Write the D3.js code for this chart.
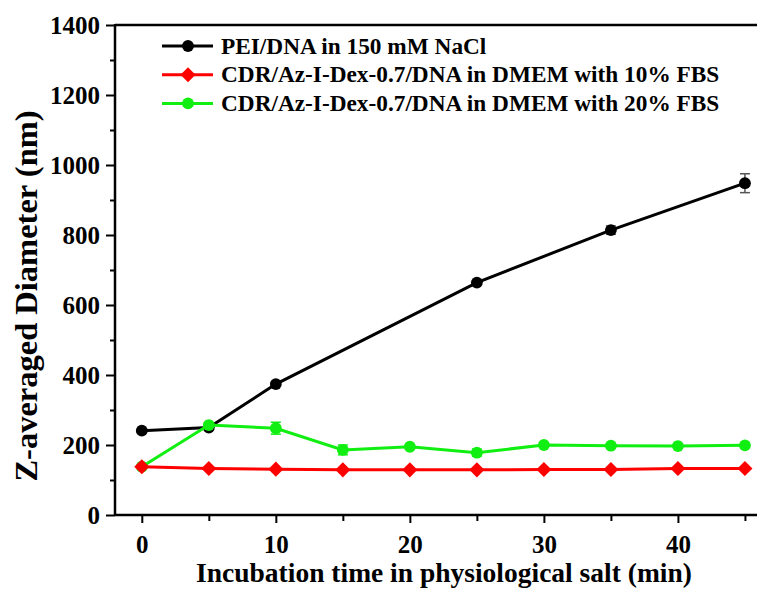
<!DOCTYPE html>
<html>
<head>
<meta charset="utf-8">
<script src="https://cdn.jsdelivr.net/npm/d3@7"></script>
<style>
  body { margin: 0; background: #fff; }
  text { font-family: "Liberation Serif", "Times New Roman", serif; font-weight: bold; }
</style>
</head>
<body>
<div id="holder"></div>
<script>
// values
var time = [0, 5, 10, 15, 20, 25, 30, 35, 40, 45];
var peiTime = [0, 5, 10, 25, 35, 45];
var peiVal = [241, 250, 374, 664, 814, 948];
var peiErr = [4, 4, 6, 5, 12, 27];
var fbs10Val = [138, 133, 131, 129, 129, 129, 130, 130, 133, 133];
var fbs10Err = [3, 3, 3, 3, 3, 3, 3, 3, 3, 3];
var fbs20Val = [138, 257, 248, 186, 195, 178, 200, 198, 197, 199];
var fbs20Err = [0, 5, 17, 14, 6, 10, 5, 4, 4, 4];
var seriesNames = [
  'PEI/DNA in 150 mM NaCl',
  'CDR/Az-I-Dex-0.7/DNA in DMEM with 10% FBS',
  'CDR/Az-I-Dex-0.7/DNA in DMEM with 20% FBS'
];
var xTicks = [0, 5, 10, 15, 20, 25, 30, 35, 40, 45];
var yTicks = [0, 100, 200, 300, 400, 500, 600, 700, 800, 900, 1000, 1100, 1200, 1300, 1400];

var W = 761, H = 603;
var plotLeft = 115, plotTop = 25, plotRight = 757, plotBottom = 515;

var svg = d3.select('#holder').append('svg').attr('width', W).attr('height', H);

var x = d3.scaleLinear().domain([-2, 45.9]).range([plotLeft, plotRight]);
var y = d3.scaleLinear().domain([0, 1400]).range([plotBottom, plotTop]);

// axes
var xAxis = d3.axisBottom(x).tickValues(xTicks)
  .tickSize(7).tickPadding(14)
  .tickFormat(function(d) { return d % 10 === 0 ? d : ''; });
var gx = svg.append('g').attr('transform', 'translate(0,' + plotBottom + ')').call(xAxis);
gx.select('.domain').remove();
gx.selectAll('.tick line').attr('stroke', '#000').attr('stroke-width', 2)
  .attr('y2', function(d) { return d % 10 === 0 ? 8 : 6; });
gx.selectAll('.tick text').attr('fill', '#000').attr('y', 20)
  .style('font-size', '25px').style('font-family', '"Liberation Serif", serif').style('font-weight', 'bold');

var yAxis = d3.axisLeft(y).tickValues(yTicks)
  .tickSize(8).tickPadding(7)
  .tickFormat(function(d) { return d % 200 === 0 ? d : ''; });
var gy = svg.append('g').attr('transform', 'translate(' + plotLeft + ',0)').call(yAxis);
gy.select('.domain').remove();
gy.selectAll('.tick line').attr('stroke', '#000').attr('stroke-width', 2)
  .attr('x2', function(d) { return d % 200 === 0 ? -9 : -5; });
gy.selectAll('.tick text').attr('fill', '#000').attr('x', -15)
  .style('font-size', '25px').style('font-family', '"Liberation Serif", serif').style('font-weight', 'bold');

// frame lines: left, bottom, top
svg.append('line').attr('x1', plotLeft).attr('x2', plotLeft).attr('y1', plotTop - 1).attr('y2', plotBottom + 1)
  .attr('stroke', '#000').attr('stroke-width', 2.5);
svg.append('line').attr('x1', plotLeft).attr('x2', plotRight).attr('y1', plotBottom).attr('y2', plotBottom)
  .attr('stroke', '#000').attr('stroke-width', 2.5);
svg.append('line').attr('x1', plotLeft).attr('x2', plotRight).attr('y1', plotTop).attr('y2', plotTop)
  .attr('stroke', '#000').attr('stroke-width', 2.5);

// axis titles
svg.append('text').attr('x', 444).attr('y', 582).attr('text-anchor', 'middle')
  .style('font-size', '27.5px').text('Incubation time in physiological salt (min)');
svg.append('text').attr('transform', 'translate(37,296) rotate(-90)').attr('text-anchor', 'middle')
  .style('font-size', '32.5px').text('Z-averaged Diameter (nm)');

function drawSeries(xs, vals, errs, color, errColor, shape) {
  var pts = xs.map(function(t, i) { return { t: t, v: vals[i], e: errs[i] }; });
  var line = d3.line().x(function(d) { return x(d.t); }).y(function(d) { return y(d.v); });
  var g = svg.append('g');
  g.append('path').datum(pts).attr('d', line).attr('fill', 'none')
    .attr('stroke', color).attr('stroke-width', 3);
  var eb = g.selectAll('.err').data(pts.filter(function(d) { return d.e > 0; })).enter().append('g');
  eb.append('line').attr('x1', function(d) { return x(d.t); }).attr('x2', function(d) { return x(d.t); })
    .attr('y1', function(d) { return y(d.v - d.e); }).attr('y2', function(d) { return y(d.v + d.e); })
    .attr('stroke', errColor).attr('stroke-width', 1.5);
  [-1, 1].forEach(function(s) {
    eb.append('line').attr('x1', function(d) { return x(d.t) - 5; }).attr('x2', function(d) { return x(d.t) + 5; })
      .attr('y1', function(d) { return y(d.v + s * d.e); }).attr('y2', function(d) { return y(d.v + s * d.e); })
      .attr('stroke', errColor).attr('stroke-width', 1.5);
  });
  var sym = shape === 'diamond' ? d3.symbol().type(d3.symbolDiamond2).size(145)
                                : d3.symbol().type(d3.symbolCircle).size(110);
  g.selectAll('.pt').data(pts).enter().append('path')
    .attr('transform', function(d) { return 'translate(' + x(d.t) + ',' + y(d.v) + ')'; })
    .attr('d', sym).attr('fill', color);
}

drawSeries(peiTime, peiVal, peiErr, '#000', '#555', 'circle');
drawSeries(time, fbs20Val, fbs20Err, '#11ee11', '#11ee11', 'circle');
drawSeries(time, fbs10Val, fbs10Err, '#ff0000', '#ff0000', 'diamond');

// legend
var legColors = ['#000', '#ff0000', '#11ee11'];
var legShapes = ['circle', 'diamond', 'circle'];
var leg = svg.append('g');
seriesNames.forEach(function(name, i) {
  var ly = 46 + i * 28.7;
  leg.append('line').attr('x1', 162).attr('x2', 213).attr('y1', ly).attr('y2', ly)
    .attr('stroke', legColors[i]).attr('stroke-width', 3);
  var sym = legShapes[i] === 'diamond' ? d3.symbol().type(d3.symbolDiamond2).size(145)
                                       : d3.symbol().type(d3.symbolCircle).size(110);
  leg.append('path').attr('transform', 'translate(188,' + ly + ')').attr('d', sym).attr('fill', legColors[i]);
  leg.append('text').attr('x', 221).attr('y', ly + 7.5).style('font-size', '23.3px').text(name);
});
</script>
</body>
</html>
